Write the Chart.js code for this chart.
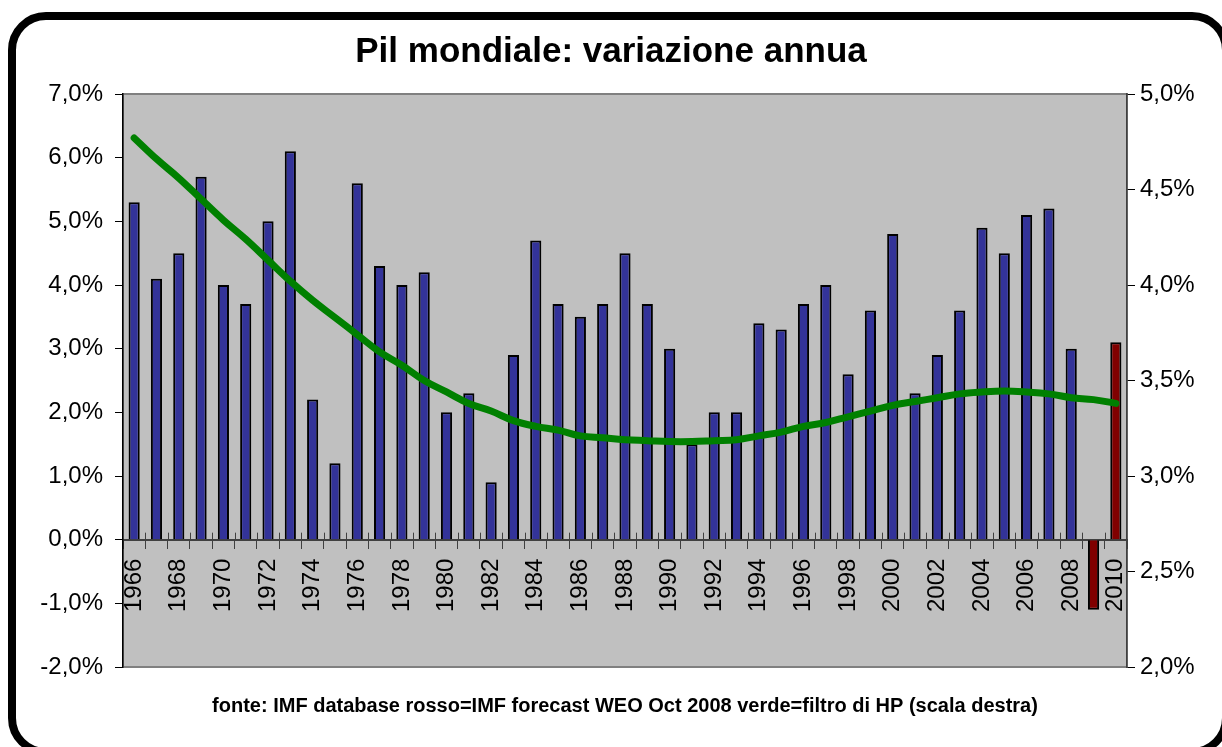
<!DOCTYPE html>
<html>
<head>
<meta charset="utf-8">
<script src="https://cdn.jsdelivr.net/npm/chart.js@4.4.0/dist/chart.umd.min.js"></script>
<style>
  html, body { margin: 0; padding: 0; background: #fff; overflow: hidden; }
  #wrap { position: relative; width: 1222px; height: 747px; overflow: hidden; }
  #frame {
    position: absolute; left: 8px; top: 12px; width: 1222px; height: 744px;
    box-sizing: border-box;
    border: 8px solid #000; border-radius: 38px; pointer-events: none;
  }
</style>
</head>
<body>
<div id="wrap">
  <canvas id="chart" width="1222" height="747"></canvas>
  <div id="frame"></div>
</div>
<script>
// years on the x axis
var years = [];
for (var y = 1966; y <= 2010; y++) years.push(String(y));

// world GDP, annual change (%), left scale
var gdpGrowth = [5.3, 4.1, 4.5, 5.7, 4.0, 3.7, 5.0, 6.1, 2.2, 1.2,
                 5.6, 4.3, 4.0, 4.2, 2.0, 2.3, 0.9, 2.9, 4.7, 3.7,
                 3.5, 3.7, 4.5, 3.7, 3.0, 1.5, 2.0, 2.0, 3.4, 3.3,
                 3.7, 4.0, 2.6, 3.6, 4.8, 2.3, 2.9, 3.6, 4.9, 4.5,
                 5.1, 5.2, 3.0, -1.1, 3.1];

// IMF forecast years (red bars)
var forecastYears = ["2009", "2010"];

// HP filter trend (%), right scale
var hpTrend = [4.77, 4.66, 4.56, 4.45, 4.34, 4.24, 4.13, 4.02, 3.92, 3.83,
               3.74, 3.65, 3.58, 3.50, 3.44, 3.38, 3.34, 3.29, 3.26, 3.24,
               3.21, 3.20, 3.19, 3.185, 3.18, 3.18, 3.185, 3.19, 3.21, 3.23,
               3.26, 3.28, 3.31, 3.34, 3.37, 3.39, 3.41, 3.43, 3.44, 3.445,
               3.44, 3.43, 3.41, 3.40, 3.38];

var footerText = 'fonte: IMF database rosso=IMF forecast WEO Oct 2008 verde=filtro di HP (scala destra)';

var fmtPct = function(v) { return v.toFixed(1).replace('.', ',') + '%'; };

var barColors = years.map(function(yr) {
    return forecastYears.indexOf(yr) >= 0 ? '#800000' : '#333399';
});

var font = 'Liberation Sans, Arial, sans-serif';

//grey plot area with a thin border
var plotBackground = {
    id: 'plotBackground',
    beforeDraw: function(chart) {
        var a = chart.chartArea, c = chart.ctx;
        c.save();
        c.fillStyle = '#c0c0c0';
        c.fillRect(a.left, a.top, a.right - a.left, a.bottom - a.top);
        c.strokeStyle = '#808080';
        c.lineWidth = 2;
        c.strokeRect(a.left, a.top, a.right - a.left, a.bottom - a.top);
        c.restore();
    }
};

//tick marks of the category axis cross the zero line, plus the source note
var extras = {
    id: 'extras',
    afterDraw: function(chart) {
        var c = chart.ctx, x = chart.scales.x, a = chart.chartArea;
        var y0 = chart.scales.y.getPixelForValue(0);
        var step = x.getPixelForValue(1) - x.getPixelForValue(0);
        c.save();
        c.strokeStyle = '#404040';
        c.lineWidth = 1;
        c.beginPath();
        for (var i = 1; i < years.length; i++) {
            var px = Math.round(x.getPixelForValue(i) - step / 2) + 0.5;
            c.moveTo(px, y0 - 7);
            c.lineTo(px, y0);
        }
        c.stroke();
        c.fillStyle = '#000';
        c.font = 'bold 20px ' + font;
        c.textAlign = 'center';
        c.textBaseline = 'middle';
        c.fillText(footerText, (a.left + a.right) / 2, a.bottom + 39);
        c.restore();
    }
};

new Chart(document.getElementById('chart').getContext('2d'), {
    data: {
        labels: years,
        datasets: [
            {
                type: 'line',
                data: hpTrend,
                yAxisID: 'y1',
                borderColor: '#008000',
                borderWidth: 7,
                borderCapStyle: 'round',
                tension: 0.4,
                pointRadius: 0,
                order: 0
            },
            {
                type: 'bar',
                data: gdpGrowth,
                yAxisID: 'y',
                backgroundColor: barColors,
                borderColor: '#000',
                borderWidth: 2,
                categoryPercentage: 1,
                barPercentage: 0.5,
                order: 1
            }
        ]
    },
    options: {
        responsive: false,
        animation: false,
        layout: { padding: { bottom: 80 } },
        plugins: {
            legend: { display: false },
            tooltip: { enabled: false },
            title: {
                display: true,
                text: 'Pil mondiale: variazione annua',
                color: '#000',
                font: { family: font, size: 35, weight: 'bold', lineHeight: 1.2 },
                padding: { top: 31, bottom: 21 }
            }
        },
        scales: {
            x: {
                position: { y: 0 },
                offset: true,
                grid: { offset: true, drawOnChartArea: false, tickLength: 8, color: '#404040' },
                border: { color: '#404040', width: 2 },
                ticks: {
                    autoSkip: false,
                    minRotation: 90,
                    maxRotation: 90,
                    padding: 11,
                    color: '#000',
                    font: { family: font, size: 24 },
                    callback: function(v, i) { return i % 2 === 0 ? years[i] : ''; }
                }
            },
            y: {
                position: 'left',
                min: -2,
                max: 7,
                afterFit: function(s) { s.width = 123; },
                grid: { drawOnChartArea: false, tickLength: 8, color: '#000' },
                border: { color: '#000', width: 1.5 },
                ticks: {
                    stepSize: 1,
                    padding: 12,
                    color: '#000',
                    font: { family: font, size: 24 },
                    callback: fmtPct
                }
            },
            y1: {
                position: 'right',
                min: 2,
                max: 5,
                afterFit: function(s) { s.width = 95; },
                grid: { drawOnChartArea: false, tickLength: 8, color: '#000' },
                border: { color: '#404040', width: 1.5 },
                ticks: {
                    stepSize: 0.5,
                    padding: 5,
                    color: '#000',
                    font: { family: font, size: 24 },
                    callback: fmtPct
                }
            }
        }
    },
    plugins: [plotBackground, extras]
});
</script>
</body>
</html>
